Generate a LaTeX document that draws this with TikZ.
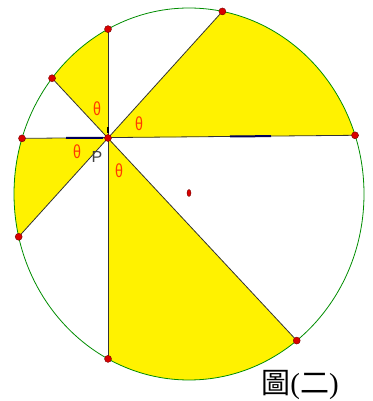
\documentclass[tikz,border=0pt]{standalone}
\usepackage{fontspec}
\usetikzlibrary{shapes.geometric}
\setmainfont{Liberation Serif}
\newfontfamily\cjk{Noto Sans CJK TC}
\newfontfamily\lsans{Liberation Sans}
\newcommand{\thetaglyph}{\scalebox{0.75}[1]{θ}}
\begin{document}
\begin{tikzpicture}[x=1pt,y=1pt,
  chord/.style={draw=black!80, line width=0.8pt},
  sector/.style={fill=yellow},
  rim/.style={draw=green!55!black, line width=0.8pt},
  pt/.style={circle, fill=red!85!black, draw=red!45!black, line width=0.4pt, inner sep=0pt, minimum size=7pt},
  ang/.style={text=orange!45!red, font=\lsans\fontsize{19}{19}\selectfont, inner sep=0pt},
  lbl/.style={text=black!75, font=\lsans\fontsize{16}{16}\selectfont, inner sep=0pt},
  markseg/.style={draw=blue!35!black, line width=2pt}]
\useasboundingbox (0,0) rectangle (372,401);
\def\cx{189}\def\cy{207}\def\rx{175}\def\ry{186}
\coordinate (C) at (\cx,\cy);
\coordinate (P) at (108,263);
\coordinate (Vt) at ({\cx+\rx*cos(117.57)},{\cy+\ry*sin(117.57)});
\coordinate (Vb) at ({\cx+\rx*cos(242.43)},{\cy+\ry*sin(242.43)});
\coordinate (UL) at ({\cx+\rx*cos(141.5)},{\cy+\ry*sin(141.5)});
\coordinate (LR) at ({\cx+\rx*cos(308)},{\cy+\ry*sin(308)});
\coordinate (Lh) at ({\cx+\rx*cos(162.6)},{\cy+\ry*sin(162.6)});
\coordinate (Rh) at ({\cx+\rx*cos(18.4)},{\cy+\ry*sin(18.4)});
\coordinate (TR) at ({\cx+\rx*cos(79)},{\cy+\ry*sin(79)});
\coordinate (LL) at ({\cx+\rx*cos(193.3)},{\cy+\ry*sin(193.3)});
% sectors
\fill[sector] (P) -- plot[domain=117.57:141.5, samples=40] ({\cx+\rx*cos(\x)},{\cy+\ry*sin(\x)}) -- cycle;
\fill[sector] (P) -- plot[domain=18.4:79, samples=60] ({\cx+\rx*cos(\x)},{\cy+\ry*sin(\x)}) -- cycle;
\fill[sector] (P) -- plot[domain=162.6:193.3, samples=40] ({\cx+\rx*cos(\x)},{\cy+\ry*sin(\x)}) -- cycle;
\fill[sector] (P) -- plot[domain=242.43:308, samples=60] ({\cx+\rx*cos(\x)},{\cy+\ry*sin(\x)}) -- cycle;
% circle
\draw[rim] (C) ellipse [x radius=\rx, y radius=\ry];
% chords
\draw[chord] (Vt) -- (Vb);
\draw[chord] (UL) -- (LR);
\draw[chord] (Lh) -- (Rh);
\draw[chord] (TR) -- (P) -- (LL);
% marks
\coordinate (m1a) at (66,263.2);
\coordinate (m1b) at (103,263.1);
\coordinate (m2a) at (230,264.5);
\coordinate (m2b) at (271,264.9);
\coordinate (m3a) at (108,268);
\coordinate (m3b) at (108,274);
\draw[markseg] (m1a) -- (m1b);
\draw[markseg] (m2a) -- (m2b);
\draw[draw=black, line width=1.6pt] (m3a) -- (m3b);
% points
\foreach \p in {Vt,Vb,UL,LR,Lh,Rh,TR,LL,P} \node[pt] at (\p) {};
\node[ellipse, fill=red!85!black, draw=red!45!black, line width=0.4pt, inner sep=0pt, minimum width=4pt, minimum height=7pt] (Cdot) at (189,208) {};
% labels
\node[ang] (t1) at (97,292) {\thetaglyph};
\node[ang] (t2) at (139,277) {\thetaglyph};
\node[ang] (t3) at (77,249) {\thetaglyph};
\node[ang] (t4) at (119,230) {\thetaglyph};
\node[lbl] (Plab) at (97,244) {P};
\node[inner sep=0pt] (cap) at (300,16) {\fontsize{29}{32}\selectfont\cjk 圖\rmfamily(\cjk 二\rmfamily)};
\end{tikzpicture}
\end{document}
